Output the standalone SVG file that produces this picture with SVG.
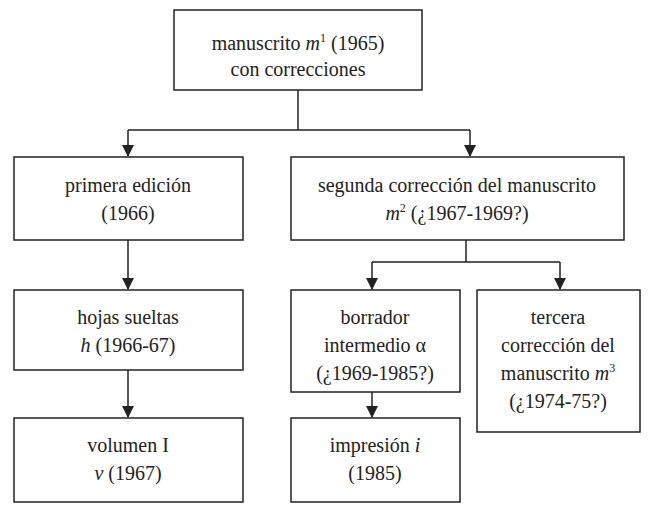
<svg xmlns="http://www.w3.org/2000/svg" width="650" height="509" viewBox="0 0 650 509" font-family="Liberation Serif, DejaVu Serif, serif">
<style>
rect.b{fill:#fff;stroke:#222;stroke-width:1.5}
text{font-family:'Liberation Serif','DejaVu Serif',serif;font-size:20px;fill:#222;text-anchor:middle}
.c path{fill:none;stroke:#222;stroke-width:1.5}
</style>
<defs><marker id="a" markerWidth="12" markerHeight="12" refX="11" refY="6" orient="auto" markerUnits="userSpaceOnUse"><path d="M0,0 L12,6 L0,12 z" fill="#222"/></marker></defs>
<rect width="650" height="509" fill="#fff"/>
<g class="c">
<path d="M298,90 V130"/><path d="M128,130 H470"/>
<path d="M128,130 V156" marker-end="url(#a)"/><path d="M470,130 V156" marker-end="url(#a)"/>
<path d="M128,240 V289" marker-end="url(#a)"/>
<path d="M128,370 V417" marker-end="url(#a)"/>
<path d="M466,240 V262 M372,262 H560"/>
<path d="M372,262 V289" marker-end="url(#a)"/><path d="M560,262 V289" marker-end="url(#a)"/>
<path d="M372,392 V417" marker-end="url(#a)"/>
</g>
<g id="n1"><rect class="b" x="174" y="10" width="248" height="80"/><text x="298" y="50">manuscrito <tspan font-style="italic">m</tspan><tspan font-size="12" dy="-8">1</tspan><tspan dy="8"> (1965)</tspan></text><text x="298" y="76">con correcciones</text></g>
<g id="n2"><rect class="b" x="14" y="157" width="229" height="83"/><text x="128" y="192">primera edición</text><text x="128" y="220">(1966)</text></g>
<g id="n3"><rect class="b" x="291" y="157" width="333" height="83"/><text x="457" y="192">segunda corrección del manuscrito</text><text x="457" y="220"><tspan font-style="italic">m</tspan><tspan font-size="12" dy="-8">2</tspan><tspan dy="8"> (¿1967-1969?)</tspan></text></g>
<g id="n4"><rect class="b" x="14" y="290" width="229" height="80"/><text x="128" y="324">hojas sueltas</text><text x="128" y="352"><tspan font-style="italic">h</tspan>  (1966-67)</text></g>
<g id="n5"><rect class="b" x="14" y="418" width="229" height="84"/><text x="128" y="452">volumen I</text><text x="128" y="480"><tspan font-style="italic">v</tspan> (1967)</text></g>
<g id="n6"><rect class="b" x="291" y="290" width="169" height="102"/><text x="375" y="324">borrador</text><text x="375" y="352">intermedio α</text><text x="375" y="380">(¿1969-1985?)</text></g>
<g id="n7"><rect class="b" x="477" y="290" width="163" height="142"/><text x="558" y="324">tercera</text><text x="558" y="352">corrección del</text><text x="558" y="380">manuscrito <tspan font-style="italic">m</tspan><tspan font-size="12" dy="-8">3</tspan></text><text x="558" y="408">(¿1974-75?)</text></g>
<g id="n8"><rect class="b" x="291" y="418" width="169" height="84"/><text x="375" y="452">impresión <tspan font-style="italic">i</tspan></text><text x="375" y="480">(1985)</text></g>
</svg>
